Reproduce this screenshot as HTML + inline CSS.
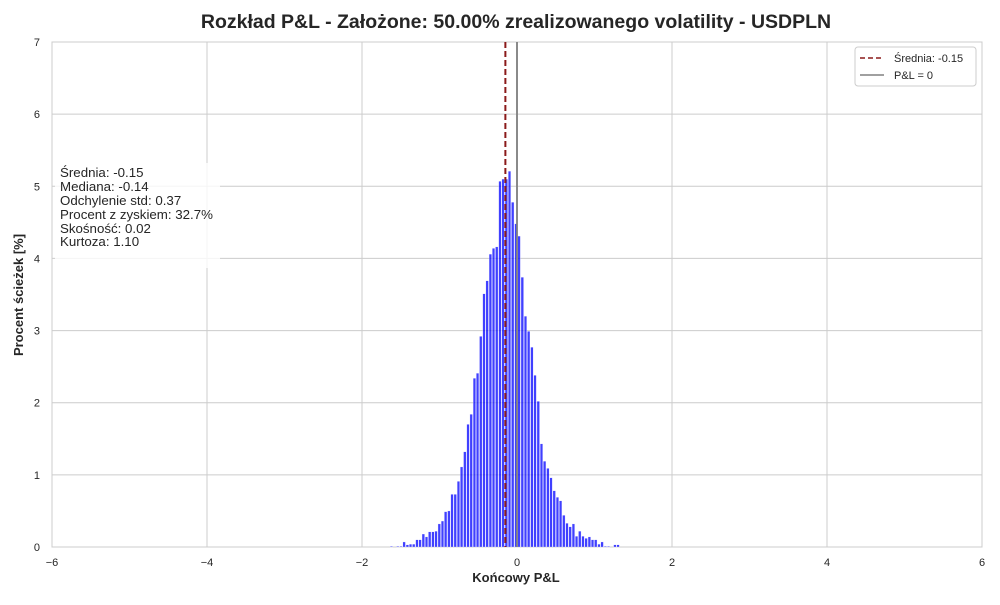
<!DOCTYPE html>
<html><head><meta charset="utf-8"><style>
body{margin:0;background:#fff;font-family:"Liberation Sans","DejaVu Sans",sans-serif;}
</style></head><body>
<svg id="c" width="1000" height="600" xmlns="http://www.w3.org/2000/svg" font-family="Liberation Sans, DejaVu Sans, sans-serif">
<text x="516" y="28" text-anchor="middle" font-size="19.5" font-weight="bold" fill="#262626">Rozkład P&amp;L - Założone: 50.00% zrealizowanego volatility - USDPLN</text>
<rect x="52" y="42" width="930" height="505" fill="#fff" stroke="#ccc" stroke-width="1"/>
<g id="grid"></g>
<g id="bars"></g>
<g id="ticks"></g>
<text x="516" y="582" text-anchor="middle" font-size="13" font-weight="bold" fill="#262626">Końcowy P&amp;L</text>
<text transform="translate(23,295) rotate(-90)" text-anchor="middle" font-size="13" font-weight="bold" fill="#262626">Procent ścieżek [%]</text>
<g>
<rect x="55" y="163" width="165" height="105" fill="#fff" opacity="0.8"/>
<text font-size="13.3" fill="#262626">
<tspan x="60" y="177">Średnia: -0.15</tspan>
<tspan x="60" y="191">Mediana: -0.14</tspan>
<tspan x="60" y="205">Odchylenie std: 0.37</tspan>
<tspan x="60" y="219">Procent z zyskiem: 32.7%</tspan>
<tspan x="60" y="233">Skośność: 0.02</tspan>
<tspan x="60" y="246">Kurtoza: 1.10</tspan>
</text></g>
<g>
<rect x="855" y="47" width="121" height="39" rx="3" fill="#fff" stroke="#ccc"/>
<line x1="860" y1="58" x2="884" y2="58" stroke="#8b1a1a" stroke-width="1.5" stroke-dasharray="5,3"/>
<text x="894" y="62" font-size="11" fill="#262626">Średnia: -0.15</text>
<line x1="860" y1="75" x2="884" y2="75" stroke="#808080" stroke-width="1.5"/>
<text x="894" y="79" font-size="11" fill="#262626">P&amp;L = 0</text>
</g>
</svg>
<script>
const xTicks=[-6,-4,-2,0,2,4,6];
const yTicks=[0,1,2,3,4,5,6,7];
const binStart=-1.617;
const binWidth=0.0412;
const vals=[0.01,0,0.01,0.01,0.07,0.03,0.04,0.04,0.1,0.1,0.18,0.14,0.21,0.21,0.22,0.32,0.36,0.49,0.5,0.73,0.73,0.91,1.11,1.32,1.7,1.84,2.34,2.41,2.92,3.51,3.69,4.06,4.14,4.16,5.07,5.1,5.1,5.21,4.78,4.48,4.31,3.74,3.2,2.99,2.77,2.38,2.02,1.43,1.19,1.09,0.96,0.78,0.69,0.64,0.44,0.33,0.28,0.32,0.15,0.22,0.15,0.12,0.14,0.1,0.1,0.04,0.07,0.01,0.01,0,0.03,0.03];
const meanVal=-0.15;
const zeroVal=0;
const X=v=>517+v*77.5, Y=v=>547-v*(505/7);
const NS="http://www.w3.org/2000/svg";
function mk(t,a,p){const e=document.createElementNS(NS,t);for(const k in a)e.setAttribute(k,a[k]);p.appendChild(e);return e;}
const grid=document.getElementById('grid'),ticks=document.getElementById('ticks'),bars=document.getElementById('bars');
xTicks.forEach(v=>{
 const l=mk('line',{x1:X(v),x2:X(v),y1:42,y2:547,stroke:'#ccc','stroke-width':1},grid);
 
 
 const t=mk('text',{x:X(v),y:566,'text-anchor':'middle','font-size':11,fill:'#262626'},ticks);
 t.textContent=(v<0?'\u2212'+(-v):v);
 
 
});
yTicks.forEach(v=>{
 const l=mk('line',{x1:52,x2:982,y1:Y(v),y2:Y(v),stroke:'#ccc','stroke-width':1},grid);
 
 
 const t=mk('text',{x:40,y:Y(v)+4,'text-anchor':'end','font-size':11,fill:'#262626'},ticks);
 t.textContent=v;
 
 
});
vals.forEach((v,i)=>{
 if(v<=0)return;
 const x0=X(binStart+i*binWidth-binWidth/2),x1=X(binStart+i*binWidth+binWidth/2);
 const r=mk('rect',{x:x0,y:Y(v),width:Math.max(x1-x0-0.6,0.5),height:Y(0)-Y(v),fill:'#0000ff','fill-opacity':0.75,stroke:'#fff','stroke-width':0.3},bars);
 
 
});
const ml=mk('line',{x1:X(meanVal),x2:X(meanVal),y1:42,y2:547,stroke:'#8b1a1a','stroke-width':2,'stroke-dasharray':'6,3'},bars);


const zl=mk('line',{x1:X(zeroVal),x2:X(zeroVal),y1:42,y2:547,stroke:'#808080','stroke-width':2,'stroke-opacity':0.9},bars);


</script>
</body></html>
